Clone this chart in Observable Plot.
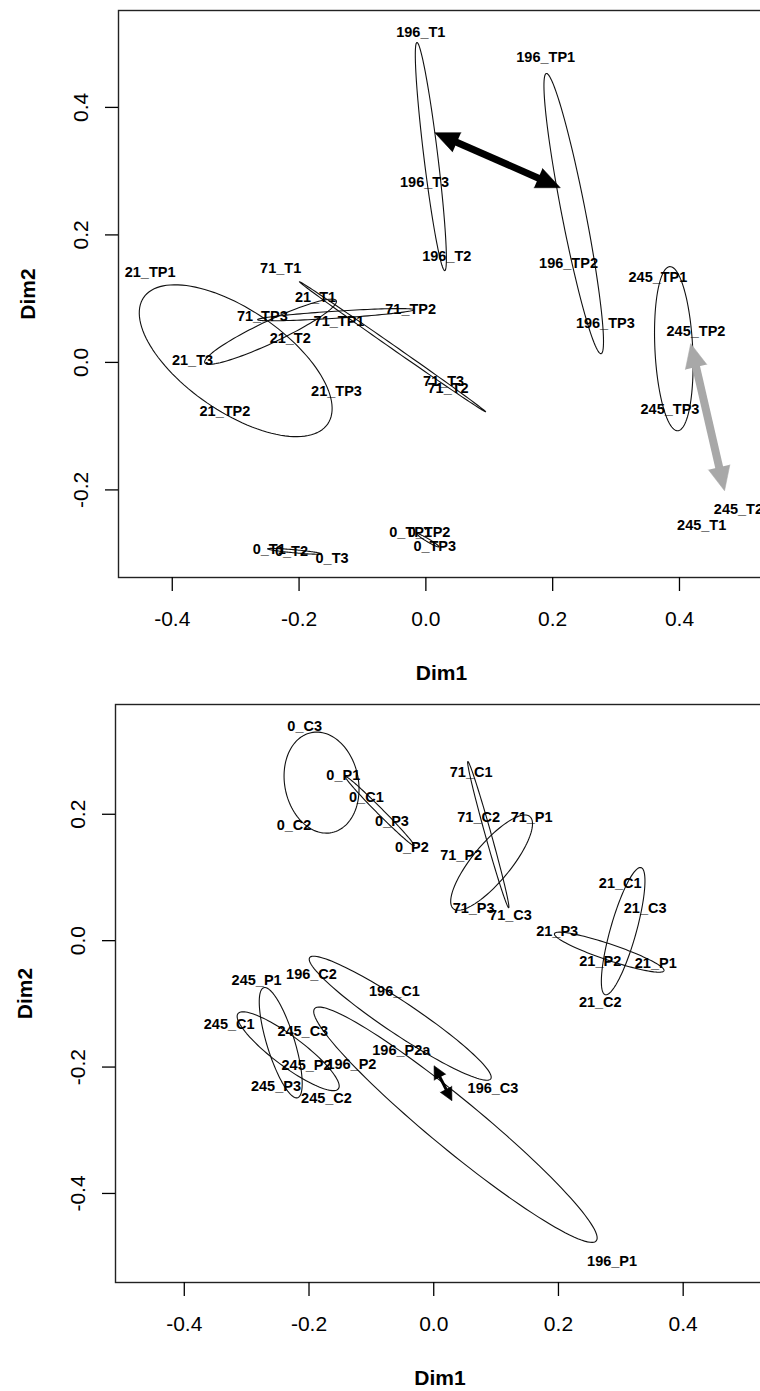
<!DOCTYPE html>
<html><head><meta charset="utf-8">
<script src="https://cdn.jsdelivr.net/npm/d3@7"></script>
<script src="https://cdn.jsdelivr.net/npm/@observablehq/plot@0.6"></script>
<style>
html,body{margin:0;padding:0;background:#fff;overflow:hidden;}
#top,#bottom{width:760px;overflow:hidden;}
</style></head><body><div id="top"></div><div id="bottom"></div>
<script>
// ---------- Top panel (T / TP samples) ----------
const topNames = ["196_T1","196_TP1","196_T3","196_T2","196_TP2","196_TP3","245_TP1","245_TP2","245_TP3","245_T2","245_T1","21_TP1","71_T1","21_T1","71_TP2","71_TP3","71_TP1","21_T2","21_T3","21_TP3","71_T3","71_T2","21_TP2","0_T1","0_T2","0_T3","0_TP1","0_TP2","0_TP3"];
const topDim1 = [-0.008,0.189,-0.002,0.033,0.225,0.283,0.366,0.426,0.385,0.493,0.435,-0.435,-0.229,-0.174,-0.024,-0.258,-0.137,-0.214,-0.368,-0.141,0.028,0.035,-0.317,-0.247,-0.212,-0.148,-0.024,0.005,0.014];
const topDim2 = [0.518,0.478,0.282,0.166,0.155,0.061,0.133,0.048,-0.073,-0.231,-0.255,0.141,0.147,0.102,0.083,0.072,0.065,0.037,0.003,-0.046,-0.030,-0.041,-0.077,-0.294,-0.296,-0.307,-0.266,-0.266,-0.289];
// ellipse per group: [group, tip1 Dim1, tip1 Dim2, tip2 Dim1, tip2 Dim2, half-width]
const topEllipses = [
  ["196_T", -0.0141, 0.5018, 0.0298, 0.1440, 0.011],
  ["196_TP", 0.1900, 0.4532, 0.2764, 0.0137, 0.0188],
  ["245_TP", 0.3848, 0.1502, 0.3973, -0.1072, 0.0298],
  ["21_TP", -0.4452, 0.1017, -0.1547, -0.0964, 0.0801],
  ["21_T", -0.3487, -0.0005, -0.1413, 0.0968, 0.0173],
  ["71_T", -0.1995, 0.1266, 0.0942, -0.0774, 0.003],
  ["71_TP", -0.2654, 0.0670, -0.0188, 0.0827, 0.0055],
  ["0_T", -0.2497, -0.2924, -0.1649, -0.3002, 0.0024],
  ["0_TP", -0.0141, -0.2688, 0.0204, -0.2892, 0.0024]
];
const topBlackArrow = [[0.0141, 0.3603, 0.2120, 0.2740]];
const topGrayArrow = [[0.4177, 0.0294, 0.4711, -0.2013]];
const topXTicks = [-0.4, -0.2, 0.0, 0.2, 0.4];
const topYTicks = [-0.2, 0.0, 0.2, 0.4];

// ---------- Bottom panel (C / P samples) ----------
const botNames = ["0_C3","0_P1","0_C1","0_C2","0_P3","0_P2","71_C1","71_C2","71_P1","71_P2","71_P3","71_C3","21_C1","21_C3","21_P3","21_P2","21_P1","21_C2","245_P1","196_C2","196_C1","245_C1","245_C3","245_P2","196_P2","196_P2a","245_P3","245_C2","196_C3","196_P1"];
const botDim1 = [-0.207,-0.145,-0.108,-0.224,-0.067,-0.035,0.060,0.072,0.157,0.044,0.064,0.123,0.299,0.339,0.198,0.267,0.356,0.267,-0.284,-0.196,-0.063,-0.328,-0.210,-0.204,-0.132,-0.052,-0.253,-0.172,0.095,0.286];
const botDim2 = [0.339,0.261,0.226,0.182,0.188,0.147,0.266,0.195,0.195,0.135,0.051,0.040,0.090,0.051,0.014,-0.032,-0.036,-0.097,-0.063,-0.054,-0.081,-0.133,-0.143,-0.198,-0.195,-0.173,-0.230,-0.250,-0.234,-0.507];
const botEllipses = [
  ["0_C", -0.1968, 0.3291, -0.1630, 0.1711, 0.059],
  ["0_P", -0.1416, 0.2596, -0.0315, 0.1504, 0.0048],
  ["71_C", 0.0547, 0.2834, 0.1202, 0.0522, 0.0048],
  ["71_P", 0.1542, 0.1963, 0.0314, 0.0507, 0.0302],
  ["21_C", 0.3325, 0.1156, 0.2750, -0.0855, 0.0207],
  ["21_P", 0.1936, 0.0111, 0.3692, -0.0475, 0.0127],
  ["245_P", -0.2725, -0.0744, -0.2182, -0.2485, 0.0222],
  ["245_C", -0.3140, -0.1156, -0.1528, -0.2343, 0.0238],
  ["196_C", -0.1990, -0.0269, 0.0915, -0.2185, 0.0254],
  ["196_P", -0.1911, -0.1076, 0.2607, -0.4749, 0.0397]
];
const botBlackArrow = [[0.0005, -0.1979, 0.0292, -0.2533]];
const botXTicks = [-0.4, -0.2, 0.0, 0.2, 0.4];
const botYTicks = [-0.4, -0.2, 0.0, 0.2];

// ---------- helpers ----------
function labelRows(names, d1, d2) {
  return names.map((n, i) => ({name: n, x: d1[i], y: d2[i]}));
}
function ellipsePoints(list) {
  const out = [];
  for (const [g, x1, y1, x2, y2, b] of list) {
    const cx = (x1 + x2) / 2, cy = (y1 + y2) / 2;
    const a = Math.hypot(x2 - x1, y2 - y1) / 2;
    const ux = (x2 - x1) / (2 * a), uy = (y2 - y1) / (2 * a);
    const vx = -uy, vy = ux;
    const n = 120;
    for (let i = 0; i < n; i++) {
      const t = 2 * Math.PI * i / n;
      out.push({g, x: cx + a * Math.cos(t) * ux + b * Math.sin(t) * vx,
                   y: cy + a * Math.cos(t) * uy + b * Math.sin(t) * vy});
    }
  }
  return out;
}
function arrowRows(list) {
  return list.map(([x1, y1, x2, y2]) => ({x1, y1, x2, y2}));
}
function headRows(list) {
  const out = [];
  for (const [x1, y1, x2, y2] of list) {
    const ang = Math.atan2(x2 - x1, y2 - y1) * 180 / Math.PI;
    out.push({x: x2, y: y2, rot: ang});
    out.push({x: x1, y: y1, rot: ang + 180});
  }
  return out;
}
function doubleArrow(list, color, shaftW, headLen, headR) {
  return [
    Plot.arrow(arrowRows(list), {x1: "x1", y1: "y1", x2: "x2", y2: "y2", stroke: color,
      strokeWidth: shaftW, headLength: 0, insetStart: headLen * 0.6, insetEnd: headLen * 0.6, strokeLinecap: "butt"}),
    Plot.vector(headRows(list), {x: "x", y: "y", rotate: "rot", length: headLen, r: headR,
      shape: "spike", anchor: "end", fill: color, stroke: color, strokeWidth: 0.5})
  ];
}
const fmt = d => d.toFixed(1);
const font = "'Liberation Sans', Arial, Helvetica, sans-serif";

function panel(o) {
  return Plot.plot({
    width: 760, height: o.height,
    marginLeft: o.marginLeft, marginRight: -4, marginTop: o.marginTop, marginBottom: o.marginBottom,
    x: {domain: o.xDomain}, y: {domain: o.yDomain},
    style: {fontFamily: font, background: "white", color: "black"},
    marks: [
      Plot.line(ellipsePoints(o.ellipses), {x: "x", y: "y", z: "g", curve: "linear-closed", stroke: "#111", strokeWidth: 1.1}),
      ...o.arrows,
      Plot.text(o.labels, {x: "x", y: "y", text: "name", fontSize: 14.5, fontWeight: "bold", fill: "black"}),
      Plot.frame({stroke: "#222", strokeWidth: 1.4}),
      Plot.axisX({ticks: o.xTicks, tickFormat: fmt, tickSize: 14, tickPadding: 20, fontSize: 21, label: null, strokeWidth: 1.3}),
      Plot.axisY({ticks: o.yTicks, tickFormat: fmt, tickSize: 13, tickPadding: 18, tickRotate: -90, fontSize: 21, label: null, strokeWidth: 1.3}),
      Plot.text(["Dim1"], {frameAnchor: "bottom", textAnchor: "middle", lineAnchor: "middle", dy: 96, text: d => d, fontSize: 21, fontWeight: "bold"}),
      Plot.text(["Dim2"], {frameAnchor: "left", textAnchor: "middle", lineAnchor: "middle", dx: -90, rotate: -90, text: d => d, fontSize: 21, fontWeight: "bold"})
    ]
  });
}

document.getElementById("top").append(panel({
  height: 695, marginLeft: 118, marginTop: 10, marginBottom: 118,
  xDomain: [-0.4848, 0.5341], yDomain: [-0.3374, 0.552],
  xTicks: topXTicks, yTicks: topYTicks,
  labels: labelRows(topNames, topDim1, topDim2),
  ellipses: topEllipses,
  arrows: [...doubleArrow(topBlackArrow, "black", 7, 24, 10.5), ...doubleArrow(topGrayArrow, "#a8a8a8", 8, 24, 11)]
}));
document.getElementById("bottom").append(panel({
  height: 696, marginLeft: 115, marginTop: 9, marginBottom: 109,
  xDomain: [-0.5103, 0.5304], yDomain: [-0.5409, 0.3737],
  xTicks: botXTicks, yTicks: botYTicks,
  labels: labelRows(botNames, botDim1, botDim2),
  ellipses: botEllipses,
  arrows: doubleArrow(botBlackArrow, "black", 3, 13, 6.5)
}));
</script></body></html>
